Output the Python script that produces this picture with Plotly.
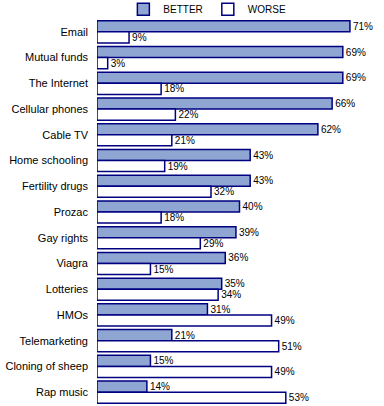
import plotly.graph_objects as go

categories = ["Email", "Mutual funds", "The Internet", "Cellular phones", "Cable TV",
              "Home schooling", "Fertility drugs", "Prozac", "Gay rights", "Viagra",
              "Lotteries", "HMOs", "Telemarketing", "Cloning of sheep", "Rap music"]
better = [71, 69, 69, 66, 62, 43, 43, 40, 39, 36, 35, 31, 21, 15, 14]
worse = [9, 3, 18, 22, 21, 19, 32, 18, 29, 15, 34, 49, 51, 49, 53]

navy = "#000080"
font_fam = "Arial, Liberation Sans, sans-serif"

fig = go.Figure()
fig.add_trace(go.Bar(
    y=categories, x=better, orientation="h", name="BETTER",
    marker=dict(color="#8EA6D1", line=dict(color=navy, width=1.5)),
    text=[f"{v}%" for v in better], textposition="outside",
    textfont=dict(size=10, color="black", family=font_fam), cliponaxis=False,
))
fig.add_trace(go.Bar(
    y=categories, x=worse, orientation="h", name="WORSE",
    marker=dict(color="white", line=dict(color=navy, width=1.5)),
    text=[f"{v}%" for v in worse], textposition="outside",
    textfont=dict(size=10, color="black", family=font_fam), cliponaxis=False,
))

fig.update_layout(
    width=384, height=406,
    margin=dict(l=97, r=2, t=19, b=1, autoexpand=False),
    barmode="group", bargap=0.14, bargroupgap=0,
    plot_bgcolor="white", paper_bgcolor="white",
    font=dict(family=font_fam, size=11, color="black"),
    showlegend=True,
    legend=dict(orientation="h", xref="container", yref="container",
                x=0.54, xanchor="center", y=0.977, yanchor="middle",
                font=dict(size=10), itemwidth=30, tracegroupgap=0,
                bgcolor="rgba(0,0,0,0)"),
)
fig.update_xaxes(range=[0, 80], visible=False, showgrid=False, zeroline=False)
fig.update_yaxes(autorange="reversed", showgrid=False, zeroline=False, showline=False,
                 ticks="", ticklabelstandoff=8, tickfont=dict(size=11))

fig.write_html("out.html", config={"displayModeBar": False},
               post_script="document.body.style.margin='0';document.body.style.overflow='hidden';")
